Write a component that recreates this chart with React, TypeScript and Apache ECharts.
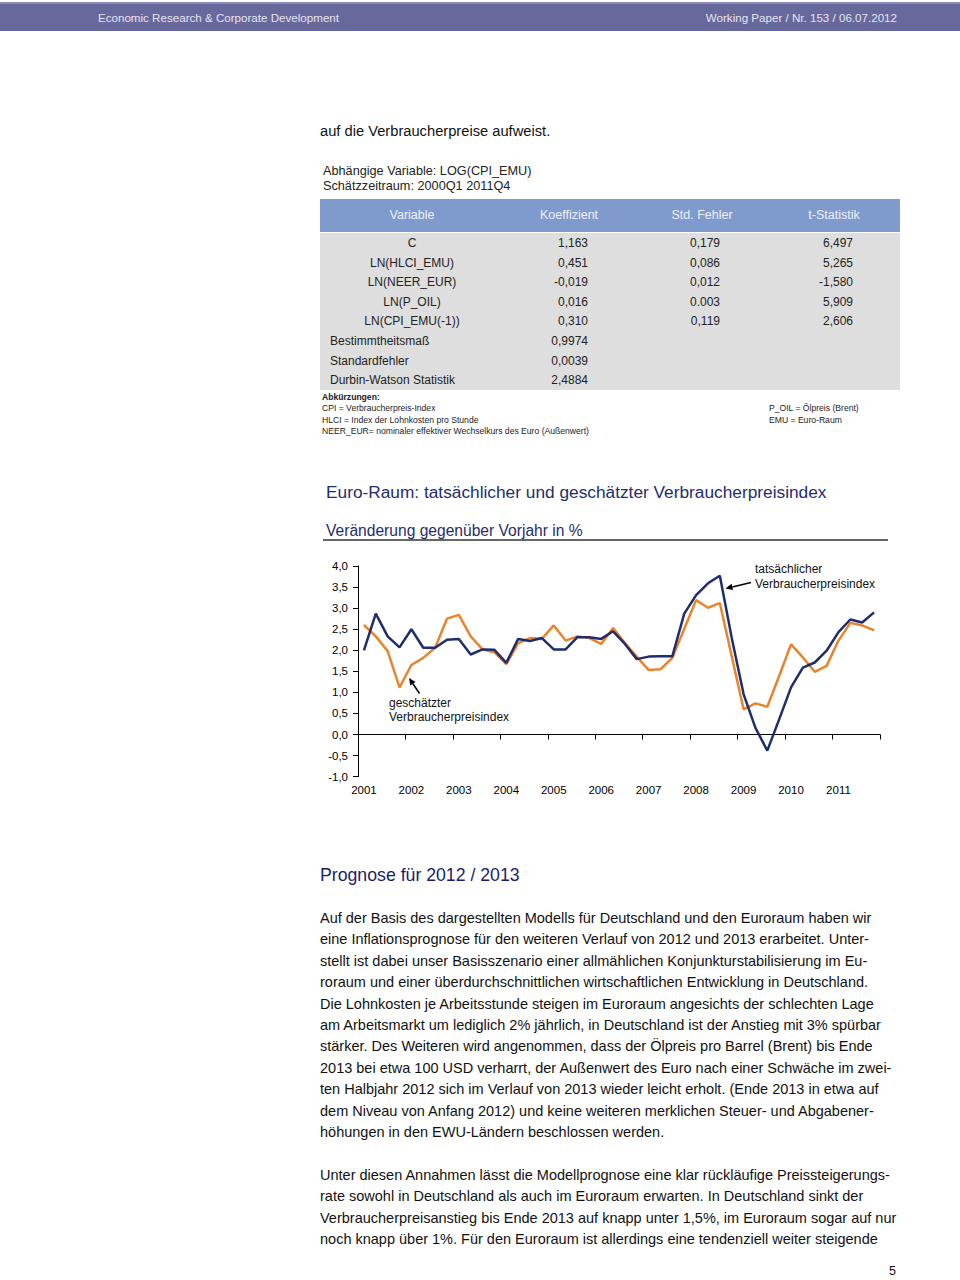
import React, { useEffect, useRef } from "react";
import * as echarts from "echarts";

// ---------- data ----------
const years = ["2001", "2002", "2003", "2004", "2005", "2006", "2007", "2008", "2009", "2010", "2011"];
const quarterNames = ["Q1", "Q2", "Q3", "Q4"];
const quarters: string[] = years.flatMap((y) => quarterNames.map((q) => y + q));

// tatsächlicher Verbraucherpreisindex (Veränderung ggü. Vorjahr in %)
const actual = [
  2.0, 2.87, 2.33, 2.07,
  2.5, 2.06, 2.06, 2.25,
  2.27, 1.9, 2.02, 2.01,
  1.7, 2.27, 2.22, 2.29,
  2.02, 2.02, 2.31, 2.31,
  2.27, 2.45, 2.15, 1.79,
  1.85, 1.86, 1.86, 2.87,
  3.31, 3.59, 3.77, 2.3,
  0.96, 0.16, -0.38, 0.36,
  1.12, 1.59, 1.71, 1.99,
  2.43, 2.73, 2.66, 2.9,
];
// geschätzter Verbraucherpreisindex
const estimated = [
  2.6, 2.33, 1.98, 1.12,
  1.65, 1.82, 2.06, 2.75,
  2.84, 2.33, 2.02, 1.95,
  1.67, 2.17, 2.29, 2.27,
  2.59, 2.23, 2.33, 2.29,
  2.15, 2.53, 2.17, 1.85,
  1.53, 1.55, 1.82, 2.51,
  3.19, 3.01, 3.12, 1.86,
  0.6, 0.74, 0.66, 1.39,
  2.14, 1.83, 1.49, 1.63,
  2.23, 2.65, 2.59, 2.47,
];

const tableHeader = ["Variable", "Koeffizient", "Std. Fehler", "t-Statistik"];
const tableVars = ["C", "LN(HLCI_EMU)", "LN(NEER_EUR)", "LN(P_OIL)", "LN(CPI_EMU(-1))"];
const tableCoef = ["1,163", "0,451", "-0,019", "0,016", "0,310"];
const tableStdErr = ["0,179", "0,086", "0,012", "0.003", "0,119"];
const tableTStat = ["6,497", "5,265", "-1,580", "5,909", "2,606"];
const statLabels = ["Bestimmtheitsmaß", "Standardfehler", "Durbin-Watson Statistik"];
const statValues = ["0,9974", "0,0039", "2,4884"];

const abbrLeft = [
  "CPI = Verbraucherpreis-Index",
  "HLCI = Index der Lohnkosten pro Stunde",
  "NEER_EUR= nominaler effektiver Wechselkurs des Euro (Außenwert)",
];
const abbrRight = ["P_OIL = Ölpreis (Brent)", "EMU = Euro-Raum"];

const para1 = [
  "Auf der Basis des dargestellten Modells für Deutschland und den Euroraum haben wir",
  "eine Inflationsprognose für den weiteren Verlauf von 2012 und 2013 erarbeitet. Unter-",
  "stellt ist dabei unser Basisszenario einer allmählichen Konjunkturstabilisierung im Eu-",
  "roraum und einer überdurchschnittlichen wirtschaftlichen Entwicklung in Deutschland.",
  "Die Lohnkosten je Arbeitsstunde steigen im Euroraum angesichts der schlechten Lage",
  "am Arbeitsmarkt um lediglich 2% jährlich, in Deutschland ist der Anstieg mit 3% spürbar",
  "stärker. Des Weiteren wird angenommen, dass der Ölpreis pro Barrel (Brent) bis Ende",
  "2013 bei etwa 100 USD verharrt, der Außenwert des Euro nach einer Schwäche im zwei-",
  "ten Halbjahr 2012 sich im Verlauf von 2013 wieder leicht erholt. (Ende 2013 in etwa auf",
  "dem Niveau von Anfang 2012) und keine weiteren merklichen Steuer- und Abgabener-",
  "höhungen in den EWU-Ländern beschlossen werden.",
];
const para2 = [
  "Unter diesen Annahmen lässt die Modellprognose eine klar rückläufige Preissteigerungs-",
  "rate sowohl in Deutschland als auch im Euroraum erwarten. In Deutschland sinkt der",
  "Verbraucherpreisanstieg bis Ende 2013 auf knapp unter 1,5%, im Euroraum sogar auf nur",
  "noch knapp über 1%. Für den Euroraum ist allerdings eine tendenziell weiter steigende",
];

// ---------- styles ----------
const FONT = "Liberation Sans";
const NAVY = "#1f2d6c";
const ORANGE = "#e8832e";

function T(x: number, y: number, text: string, size: number, fill = "#111", align = "left", weight = "normal") {
  return {
    type: "text",
    x,
    y,
    silent: true,
    style: {
      text,
      fill,
      fontSize: size,
      fontFamily: FONT,
      fontWeight: weight,
      textAlign: align,
      align,
      textVerticalAlign: "middle",
      verticalAlign: "middle",
    },
  };
}

function arrow(x1: number, y1: number, x2: number, y2: number) {
  const dx = x2 - x1;
  const dy = y2 - y1;
  const len = Math.sqrt(dx * dx + dy * dy);
  const ux = dx / len;
  const uy = dy / len;
  const hl = 7;
  const hw = 3.2;
  const bx = x2 - ux * hl;
  const by = y2 - uy * hl;
  return [
    { type: "line", silent: true, shape: { x1, y1, x2: bx, y2: by }, style: { stroke: "#000", lineWidth: 1.5 } },
    {
      type: "polygon",
      silent: true,
      shape: { points: [[x2, y2], [bx - uy * hw, by + ux * hw], [bx + uy * hw, by - ux * hw]] },
      style: { fill: "#000" },
    },
  ];
}

function buildGraphics() {
  const g: any[] = [];
  // header bar
  g.push({ type: "rect", silent: true, shape: { x: 0, y: 2, width: 960, height: 29 }, style: { fill: "#67699c" } });
  g.push({ type: "rect", silent: true, shape: { x: 0, y: 2, width: 960, height: 2 }, style: { fill: "#8a8cb8" } });
  g.push(T(98, 17, "Economic Research & Corporate Development", 11.6, "#e4e4f2"));
  g.push(T(897, 17, "Working Paper / Nr. 153 / 06.07.2012", 11.6, "#e4e4f2", "right"));

  g.push(T(320, 131, "auf die Verbraucherpreise aufweist.", 14.7, "#111"));

  g.push(T(323, 171, "Abhängige Variable: LOG(CPI_EMU)", 12.7, "#222"));
  g.push(T(323, 186, "Schätzzeitraum: 2000Q1 2011Q4", 12.7, "#222"));

  // table
  g.push({ type: "rect", silent: true, shape: { x: 320, y: 199, width: 580, height: 33 }, style: { fill: "#7f9bcd" } });
  g.push({ type: "rect", silent: true, shape: { x: 320, y: 233, width: 580, height: 157 }, style: { fill: "#dedede" } });
  const headX = [412, 569, 702, 834];
  tableHeader.forEach((h, i) => g.push(T(headX[i], 215, h, 12.5, "#edf1f8", "center")));
  const rowY0 = 243;
  const rowH = 19.6;
  tableVars.forEach((v, i) => {
    const y = rowY0 + i * rowH;
    g.push(T(412, y, v, 12, "#222", "center"));
    g.push(T(588, y, tableCoef[i], 12, "#222", "right"));
    g.push(T(720, y, tableStdErr[i], 12, "#222", "right"));
    g.push(T(853, y, tableTStat[i], 12, "#222", "right"));
  });
  statLabels.forEach((s, i) => {
    const y = rowY0 + (tableVars.length + i) * rowH;
    g.push(T(330, y, s, 12, "#222"));
    g.push(T(588, y, statValues[i], 12, "#222", "right"));
  });
  g.push(T(322, 397, "Abkürzungen:", 8.6, "#222", "left", "bold"));
  abbrLeft.forEach((s, i) => g.push(T(322, 408 + i * 11.5, s, 8.6, "#222")));
  abbrRight.forEach((s, i) => g.push(T(769, 408 + i * 11.5, s, 8.6, "#222")));

  // chart titles
  g.push(T(326, 492, "Euro-Raum: tatsächlicher und geschätzter Verbraucherpreisindex", 17.3, NAVY));
  g.push(T(326, 530, "Veränderung gegenüber Vorjahr in %", 15.6, NAVY));
  g.push({ type: "line", silent: true, shape: { x1: 323, y1: 540, x2: 888, y2: 540 }, style: { stroke: "#666", lineWidth: 2 } });

  // annotations
  g.push(T(755, 569, "tatsächlicher", 12, "#111"));
  g.push(T(755, 584, "Verbraucherpreisindex", 12, "#111"));
  g.push(...arrow(751, 582.5, 725.5, 588.5));
  g.push(T(389, 703, "geschätzter", 12, "#111"));
  g.push(T(389, 717, "Verbraucherpreisindex", 12, "#111"));
  g.push(...arrow(419.5, 693.5, 409, 678));

  // text section
  g.push(T(320, 875, "Prognose für 2012 / 2013", 17.7, "#1b1d6b"));
  para1.forEach((s, i) => g.push(T(320, 918 + i * 21.4, s, 14.5, "#111")));
  para2.forEach((s, i) => g.push(T(320, 1175 + i * 21.4, s, 14.5, "#111")));
  g.push(T(896, 1271, "5", 12.5, "#111", "right"));
  return g;
}

export default function App() {
  const ref = useRef<HTMLDivElement>(null);
  useEffect(() => {
    if (!ref.current) return;
    const chart = echarts.init(ref.current, undefined, { renderer: "svg", width: 960, height: 1280 });
    const fmt = (v: number) => v.toFixed(1).replace(".", ",");
    chart.setOption({
      animation: false,
      backgroundColor: "#ffffff",
      textStyle: { fontFamily: FONT },
      grid: { left: 358, top: 566, width: 522, height: 210.7 },
      xAxis: [
        {
          type: "category",
          data: quarters,
          position: "bottom",
          boundaryGap: true,
          axisLine: { show: false, onZero: false },
          axisTick: { show: false },
          axisLabel: {
            interval: 3,
            margin: 7,
            color: "#000",
            fontSize: 11.5,
            fontFamily: FONT,
            formatter: (v: string) => v.slice(0, 4),
          },
          splitLine: { show: false },
        },
        {
          type: "category",
          data: quarters,
          position: "top",
          boundaryGap: true,
          axisLine: { show: true, onZero: true, lineStyle: { color: "#000", width: 1 } },
          axisTick: { show: true, inside: true, interval: 3, length: 5, lineStyle: { color: "#000" } },
          axisLabel: { show: false },
          splitLine: { show: false },
        },
      ],
      yAxis: {
        type: "value",
        min: -1,
        max: 4,
        interval: 0.5,
        axisLine: { show: true, lineStyle: { color: "#000", width: 1 } },
        axisTick: { show: true, length: 5, lineStyle: { color: "#000" } },
        axisLabel: { margin: 10, color: "#000", fontSize: 11.5, fontFamily: FONT, formatter: fmt },
        splitLine: { show: false },
      },
      series: [
        {
          name: "geschätzter Verbraucherpreisindex",
          type: "line",
          xAxisIndex: 1,
          data: estimated,
          symbol: "none",
          lineStyle: { color: ORANGE, width: 2.5 },
          z: 2,
        },
        {
          name: "tatsächlicher Verbraucherpreisindex",
          type: "line",
          xAxisIndex: 1,
          data: actual,
          symbol: "none",
          lineStyle: { color: NAVY, width: 2.5 },
          z: 3,
        },
      ],
      graphic: { elements: buildGraphics() },
    });
    return () => chart.dispose();
  }, []);
  return (
    <div
      ref={ref}
      style={{ position: "absolute", left: 0, top: 0, width: 960, height: 1280, background: "#fff" }}
    />
  );
}
